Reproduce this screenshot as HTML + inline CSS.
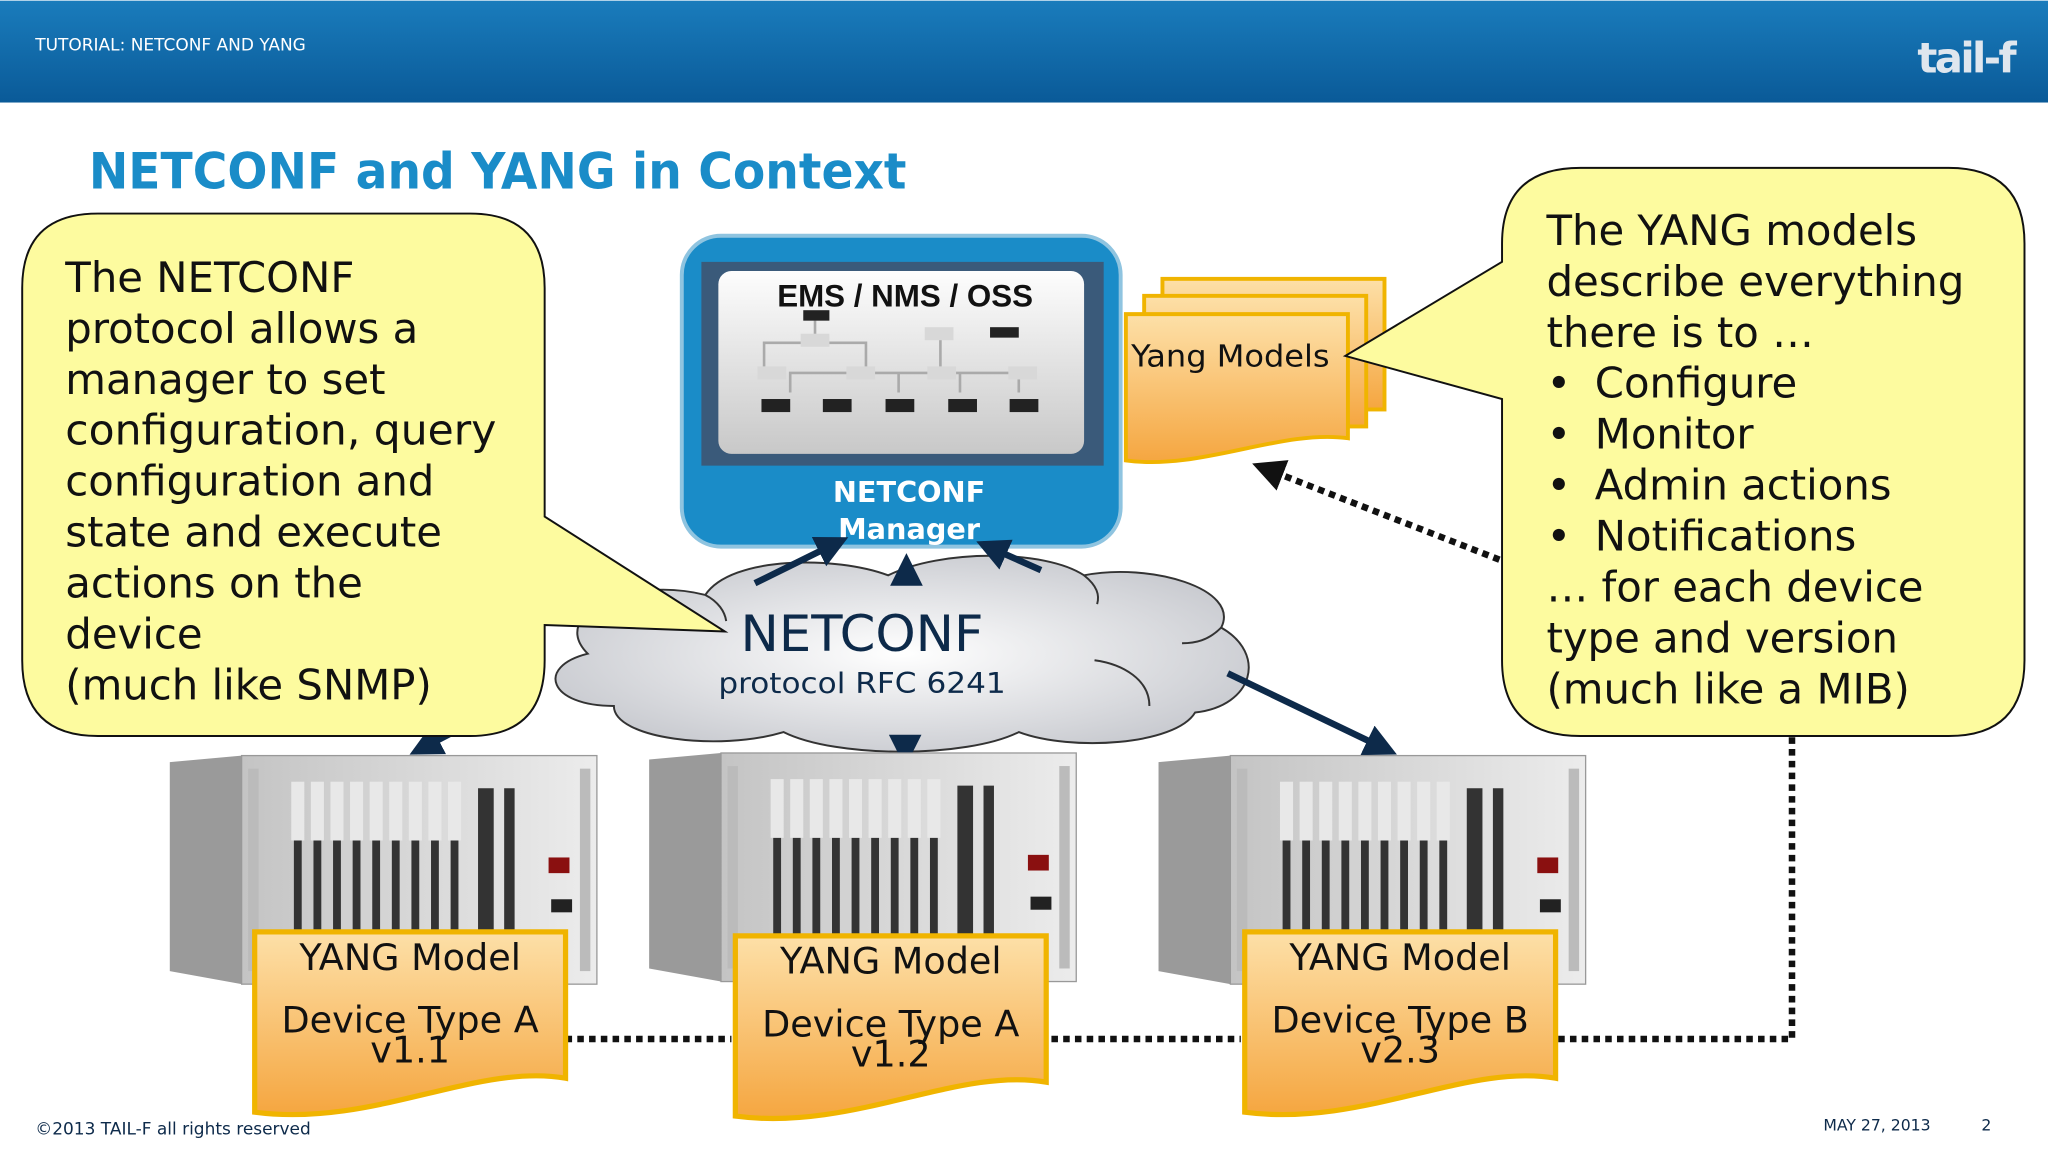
<!DOCTYPE html>
<html><head><meta charset="utf-8"><style>html,body{margin:0;padding:0;background:#fff}svg{display:block}</style></head><body>
<svg width="2048" height="1152" viewBox="0 0 1568 881" xmlns="http://www.w3.org/2000/svg" font-family="'DejaVu Sans', 'Liberation Sans', sans-serif">
<defs>
<linearGradient id="hd" x1="0" y1="0" x2="0" y2="1"><stop offset="0" stop-color="#1a7cbc"/><stop offset="1" stop-color="#0a5a98"/></linearGradient>
<linearGradient id="or" x1="0" y1="0" x2="0" y2="1"><stop offset="0" stop-color="#fde0a8"/><stop offset="1" stop-color="#f5a640"/></linearGradient>
<linearGradient id="scr" x1="0" y1="0" x2="0" y2="1"><stop offset="0" stop-color="#fdfdfd"/><stop offset="1" stop-color="#c8c8c8"/></linearGradient>
<linearGradient id="rk" x1="0" y1="0" x2="1" y2="0"><stop offset="0" stop-color="#c4c4c4"/><stop offset="1" stop-color="#ececec"/></linearGradient>
<radialGradient id="cl" cx="0.5" cy="0.5" r="0.6"><stop offset="0" stop-color="#ffffff"/><stop offset="1" stop-color="#c4c6cc"/></radialGradient>
<marker id="ah" markerWidth="5" markerHeight="5" refX="4" refY="2.5" orient="auto" markerUnits="strokeWidth"><path d="M0,0 L5,2.5 L0,5 z" fill="#0d2a4a"/></marker>
<marker id="ahk" markerWidth="5" markerHeight="5" refX="3" refY="2.5" orient="auto" markerUnits="strokeWidth"><path d="M0,0 L5,2.5 L0,5 z" fill="#111"/></marker>
<g id="rack">
<polygon points="0,5 55,0 55,175 0,165" fill="#9a9a9a"/>
<rect x="55" y="0" width="272" height="175" fill="url(#rk)" stroke="#999"/>
<g fill="#bbb"><rect x="60" y="10" width="8" height="155"/><rect x="314" y="10" width="8" height="155"/></g>
<g fill="#333"><rect x="95" y="25" width="6" height="135"/><rect x="110" y="25" width="6" height="135"/><rect x="125" y="25" width="6" height="135"/><rect x="140" y="25" width="6" height="135"/><rect x="155" y="25" width="6" height="135"/><rect x="170" y="25" width="6" height="135"/><rect x="185" y="25" width="6" height="135"/><rect x="200" y="25" width="6" height="135"/><rect x="215" y="25" width="6" height="135"/><rect x="236" y="25" width="12" height="135"/><rect x="256" y="25" width="8" height="135"/></g>
<g fill="#e8e8e8"><rect x="93" y="20" width="10" height="45"/><rect x="108" y="20" width="10" height="45"/><rect x="123" y="20" width="10" height="45"/><rect x="138" y="20" width="10" height="45"/><rect x="153" y="20" width="10" height="45"/><rect x="168" y="20" width="10" height="45"/><rect x="183" y="20" width="10" height="45"/><rect x="198" y="20" width="10" height="45"/><rect x="213" y="20" width="10" height="45"/></g>
<rect x="290" y="78" width="16" height="12" fill="#8a1010"/><rect x="292" y="110" width="16" height="10" fill="#222"/>
</g>
<g id="doc"><path d="M0,0 H238 V112 C170,100 90,150 0,138 Z" fill="url(#or)" stroke="#f0b400" stroke-width="4"/></g>
</defs>
<rect width="1568" height="881" fill="#fff"/>
<rect width="1568" height="78" fill="url(#hd)"/>
<text x="27" y="38" font-size="13" fill="#fff">TUTORIAL: NETCONF AND YANG</text>
<text x="1468" y="55" font-size="32" font-weight="bold" fill="#dfe6ee" letter-spacing="-2">tail-f</text>
<text x="68" y="144" font-size="38" font-weight="bold" fill="#1a8cc8" textLength="626" lengthAdjust="spacingAndGlyphs">NETCONF and YANG in Context</text>

<g stroke="#111" stroke-width="5" stroke-dasharray="5,4" fill="none">
<path d="M433,795 H560"/><path d="M805,795 H950"/><path d="M1193,795 H1372 V563"/>
</g>
<path d="M1148,428 L968,358" stroke="#111" stroke-width="5" stroke-dasharray="5,4" fill="none" marker-end="url(#ahk)"/>

<rect x="522" y="180" width="336" height="238" rx="30" fill="#1a8cc8" stroke="#8fc4e0" stroke-width="3"/>
<rect x="537" y="200" width="308" height="156" fill="#3a5a7a"/>
<rect x="550" y="207" width="280" height="140" rx="10" fill="url(#scr)"/>
<text x="693" y="234" font-size="24" font-weight="bold" text-anchor="middle" fill="#111" font-family="'Liberation Sans', sans-serif">EMS / NMS / OSS</text>
<g stroke="#aaa" stroke-width="2"><path d="M624,245 V262 H585 V285 M624,262 H663 V285 M605,300 V285 H780 V300 M688,285 V300 M735,285 V300 M720,255 V285" fill="none"/></g>
<g fill="#222"><rect x="615" y="237" width="20" height="8"/><rect x="758" y="250" width="22" height="8"/><rect x="583" y="305" width="22" height="10"/><rect x="630" y="305" width="22" height="10"/><rect x="678" y="305" width="22" height="10"/><rect x="726" y="305" width="22" height="10"/><rect x="773" y="305" width="22" height="10"/></g>
<g fill="#d8d8d8"><rect x="613" y="255" width="22" height="10"/><rect x="708" y="250" width="22" height="10"/><rect x="580" y="280" width="22" height="10"/><rect x="648" y="280" width="22" height="10"/><rect x="710" y="280" width="22" height="10"/><rect x="772" y="280" width="22" height="10"/></g>
<text x="696" y="384" font-size="22" font-weight="bold" text-anchor="middle" fill="#fff">NETCONF</text>
<text x="696" y="412" font-size="22" font-weight="bold" text-anchor="middle" fill="#fff">Manager</text>

<rect x="890" y="213" width="170" height="100" fill="url(#or)" stroke="#f0b400" stroke-width="3"/>
<rect x="876" y="226" width="170" height="100" fill="url(#or)" stroke="#f0b400" stroke-width="3"/>
<path d="M862,240 H1032 V335 C980,328 920,360 862,352 Z" fill="url(#or)" stroke="#f0b400" stroke-width="3"/>
<text x="866" y="280" font-size="23" fill="#111" textLength="152" lengthAdjust="spacingAndGlyphs">Yang Models</text>

<path d="M450,500 C420,470 480,440 540,455 C560,425 640,425 680,440 C720,420 800,420 830,440 C880,430 950,450 935,480 C970,500 960,540 915,545 C900,570 820,575 780,560 C740,580 640,580 600,560 C550,575 470,565 470,540 C420,540 410,510 450,500 Z" fill="url(#cl)" stroke="#333" stroke-width="1.5"/>
<g fill="none" stroke="#333" stroke-width="1.5"><path d="M540,455 C550,460 555,468 556,475"/><path d="M830,440 C840,448 842,455 840,462"/><path d="M935,480 C925,490 915,492 905,492"/><path d="M838,505 C860,508 880,520 880,540"/></g>
<text x="660" y="498" font-size="38" text-anchor="middle" fill="#0d2a4a" textLength="186" lengthAdjust="spacingAndGlyphs">NETCONF</text>
<text x="660" y="530" font-size="22" text-anchor="middle" fill="#0d2a4a" textLength="220" lengthAdjust="spacingAndGlyphs">protocol RFC 6241</text>

<g stroke="#0d2a4a" stroke-width="5" fill="none">
<path d="M578,446 L645,413" marker-end="url(#ah)"/>
<path d="M797,436 L752,416" marker-end="url(#ah)"/>
<path d="M405,530 L318,575" marker-end="url(#ah)"/>
<path d="M940,515 L1065,575" marker-end="url(#ah)"/>
<path d="M693,565 L693,582" marker-end="url(#ah)"/>
<path d="M694,440 L694,428" marker-end="url(#ah)"/>
</g>

<use href="#rack" x="130" y="578"/><use href="#rack" x="497" y="576"/><use href="#rack" x="887" y="578"/>
<use href="#doc" x="195" y="713"/><use href="#doc" x="563" y="716"/><use href="#doc" x="953" y="713"/>
<g font-size="28" text-anchor="middle" fill="#111">
<text x="314" y="742">YANG Model</text><text x="314" y="790">Device Type A</text><text x="314" y="813">v1.1</text>
<text x="682" y="745">YANG Model</text><text x="682" y="793">Device Type A</text><text x="682" y="816">v1.2</text>
<text x="1072" y="742">YANG Model</text><text x="1072" y="790">Device Type B</text><text x="1072" y="813">v2.3</text>
</g>

<path d="M75,163 H360 Q417,163 417,220 V395 L555,483 L417,478 V505 Q417,563 360,563 H75 Q17,563 17,505 V220 Q17,163 75,163 Z" fill="#fdfb9f" stroke="#111" stroke-width="1.5"/>
<g font-size="32" fill="#111">
<text x="50" y="223">The NETCONF</text><text x="50" y="262">protocol allows a</text><text x="50" y="301">manager to set</text><text x="50" y="340" textLength="330" lengthAdjust="spacingAndGlyphs">configuration, query</text><text x="50" y="379">configuration and</text><text x="50" y="418">state and execute</text><text x="50" y="457">actions on the</text><text x="50" y="496">device</text><text x="50" y="535">(much like SNMP)</text>
</g>
<path d="M1210,128 H1492 Q1550,128 1550,186 V505 Q1550,563 1492,563 H1210 Q1150,563 1150,505 V305 L1030,272 L1150,200 V186 Q1150,128 1210,128 Z" fill="#fdfb9f" stroke="#111" stroke-width="1.5"/>
<g font-size="32" fill="#111">
<text x="1184" y="187">The YANG models</text><text x="1184" y="226" textLength="320" lengthAdjust="spacingAndGlyphs">describe everything</text><text x="1184" y="265">there is to …</text>
<text x="1184" y="304">•</text><text x="1221" y="304">Configure</text>
<text x="1184" y="343">•</text><text x="1221" y="343">Monitor</text>
<text x="1184" y="382">•</text><text x="1221" y="382">Admin actions</text>
<text x="1184" y="421">•</text><text x="1221" y="421">Notifications</text>
<text x="1184" y="460">… for each device</text><text x="1184" y="499">type and version</text><text x="1184" y="538">(much like a MIB)</text>
</g>

<text x="27" y="868" font-size="13" fill="#0d2a4a">©2013 TAIL-F all rights reserved</text>
<text x="1396" y="865" font-size="12" fill="#0d2a4a">MAY 27, 2013</text>
<text x="1517" y="865" font-size="12" fill="#0d2a4a">2</text>
</svg>
</body></html>
